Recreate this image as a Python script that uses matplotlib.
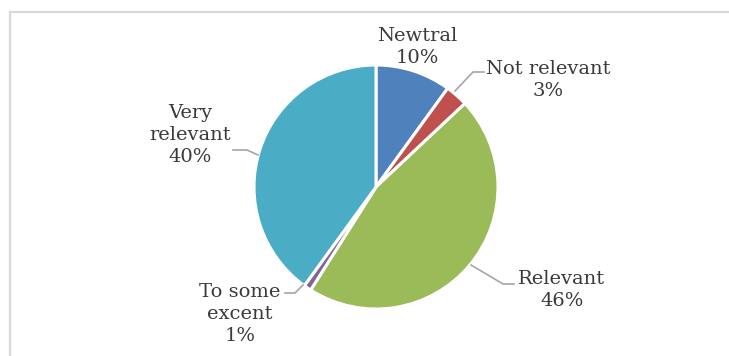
import matplotlib.pyplot as plt
from matplotlib.lines import Line2D

labels = ["Newtral", "Not relevant", "Relevant", "To some\nexcent", "Very\nrelevant"]
values = [10, 3, 46, 1, 40]
colors = ["#4F81BD", "#C0504D", "#9BBB59", "#8064A2", "#4BACC6"]

W, H = 729, 356
fig = plt.figure(figsize=(W / 100, H / 100), dpi=100)
ax = fig.add_axes([0, 0, 1, 1])

# chart frame (only top and left edges fall inside the image)
fig.add_artist(Line2D([9.5 / W, 1], [1 - 11.5 / H, 1 - 11.5 / H], color="#D9D9D9", lw=1.6))
fig.add_artist(Line2D([9.5 / W, 9.5 / W], [0, 1 - 11.5 / H], color="#D9D9D9", lw=1.6))

cx, cy, r = 376, H - 187, 122
ax.pie(values, colors=colors, startangle=90, counterclock=False,
       center=(cx, cy), radius=r, frame=True,
       wedgeprops=dict(edgecolor="white", linewidth=2.2))
ax.set_xlim(0, W)
ax.set_ylim(0, H)
ax.set_aspect("equal")
ax.axis("off")

font = dict(family="DejaVu Serif", fontsize=14, color="#3A3A3A",
            ha="center", va="center", linespacing=1.32)

# label centres and leader lines, pixel coordinates from the top-left
label_pos = [(417, 47), (548, 80), (562, 290), (240, 314), (190, 135)]
leaders = [None,
           [(455, 91), (473, 72), (484, 72)],
           [(471, 265), (503, 284), (514, 284)],
           [(303, 285), (295, 293), (285, 293)],
           [(258, 155), (247, 150), (233, 150)]]

for name, v, (px, py), ld in zip(labels, values, label_pos, leaders):
    ax.text(px, H - py, f"{name}\n{v}%", **font)
    if ld:
        ax.plot([p[0] for p in ld], [H - p[1] for p in ld], color="#A6A6A6", lw=1.2)

fig.savefig("out.png", dpi=100)
